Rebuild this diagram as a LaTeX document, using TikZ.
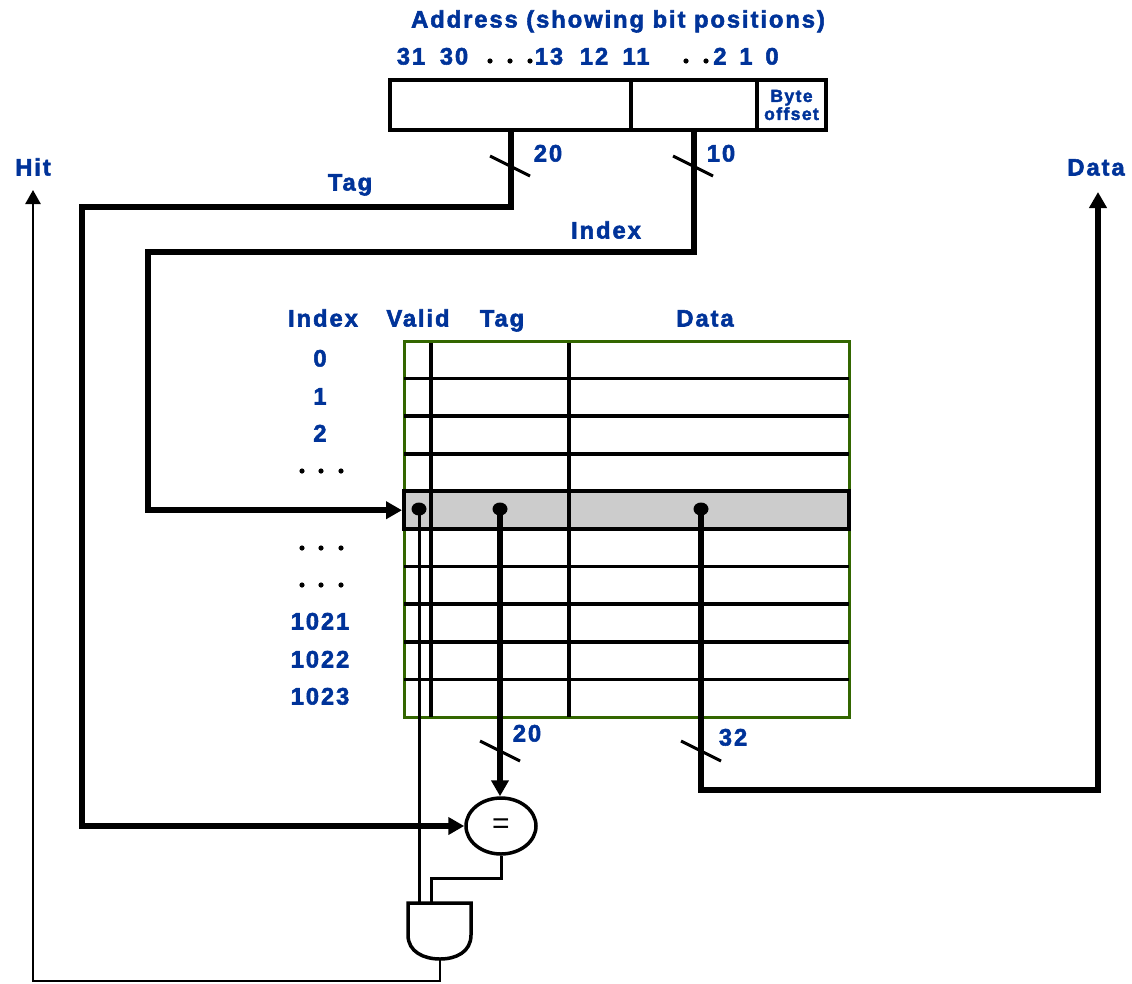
\documentclass[tikz,border=0pt]{standalone}
\usepackage{fontspec}
\setmainfont{Liberation Sans}
\newfontfamily\labfont[LetterSpace=8,BoldFeatures={FakeBold=2.2}]{Liberation Sans}
\usepackage{xcolor}
\usepackage{tikz}
\usetikzlibrary{calc,arrows.meta,positioning,shapes.geometric}
\definecolor{labc}{HTML}{003399}
\definecolor{gridc}{HTML}{336600}
\definecolor{selc}{HTML}{CCCCCC}
\tikzset{
  lab/.style={font=\labfont\fontsize{23.8}{26}\selectfont\bfseries,text=labc,inner sep=0pt,text height=17pt,text depth=0pt},
  small/.style={font=\labfont\fontsize{17.5}{18}\selectfont\bfseries,text=labc,align=center,inner sep=0pt},
  field/.style={draw,line width=3.5pt,minimum height=50pt,inner sep=0pt},
  bus/.style={line width=6pt},
  wire/.style={line width=3pt},
  busar/.style={bus,-{Triangle[length=16pt,width=17pt]}},
  wirear/.style={line width=2.5pt,-{Triangle[length=14pt,width=15pt]}},
  slash/.style={line width=3pt},
  grid/.style={line width=3.5pt},
  tap/.style={ellipse,fill,inner sep=0pt,minimum width=15pt,minimum height=13pt}
}
\begin{document}
\begin{tikzpicture}[x=1pt,y=-1pt]
\useasboundingbox (0,0) rectangle (1132,983);
\node[lab] (title) at (618,19) {Address (showing bit positions)};
\foreach \b/\x in {31/411,30/454,13/549,12/594,11/636,2/720,1/746,0/772}{\node[lab] (bit\b) at (\x,56) {\b};}
\foreach \x in {490,510,530,686,706}{\fill (\x,61) circle (2.6pt);}
\node[field,minimum width=241pt] (tagf) at (510.5,105) {};
\node[field,minimum width=126pt] (idxf) at (694,105) {};
\node[field,minimum width=69pt,small] (offf) at (791.5,105) {Byte\\offset};
\node[lab] (taglab) at (350,182) {Tag};
\node[lab] (idxlab) at (606,230) {Index};
\node[lab] (tagw) at (548,153) {20};
\node[lab] (idxw) at (721,153) {10};
\node[lab] (hit) at (33,167) {Hit};
\node[lab] (data) at (1096,167) {Data};
\node[lab] (hidx) at (323,318) {Index};
\node[lab] (hval) at (418,318) {Valid};
\node[lab] (htag) at (502,318) {Tag};
\node[lab] (hdat) at (705,318) {Data};
\foreach \t/\y in {0/358,1/396,2/433,1021/621,1022/659,1023/696}{\node[lab] (row\t) at (320,\y) {\t};}
\foreach \y in {471,548,585}{\foreach \x in {302,321,341}{\fill (\x,\y) circle (2.6pt);}}
\node[draw=gridc,line width=3pt,minimum width=445pt,minimum height=376pt,inner sep=0pt] (tbl) at (626.5,529) {};
\foreach \k in {1,...,9}{\draw[grid] (404,{341+37.6*\k}) -- (849,{341+37.6*\k});}
\node[draw,fill=selc,line width=4pt,minimum width=445pt,minimum height=37.6pt,inner sep=0pt] (rowsel) at (626.5,510.2) {};
\draw[grid] (431,343) -- (431,717);
\draw[grid] (569,343) -- (569,717);
\node[tap] (vtap) at (419,509) {};
\node[tap] (ttap) at (500,509) {};
\node[tap] (dtap) at (701,509) {};
\node[lab] (tagw2) at (527,733) {20};
\node[lab] (datw) at (733,737) {32};
\node[draw,ellipse,line width=3.5pt,minimum width=70pt,minimum height=56pt,inner sep=0pt] (eq) at (501,826) {\fontsize{30}{30}\selectfont =};
\draw[line width=3.5pt] (408,903) -- (471,903) -- (471,935) .. controls (471,952) and (456,959) .. (440,959) .. controls (424,959) and (408,952) .. (408,935) -- cycle;
\coordinate (andl) at (419,903);
\coordinate (andr) at (431,903);
\coordinate (andout) at (440,959);
\coordinate (tagturn) at (82,207);
\coordinate (idxturn) at (148,252);
\coordinate (dturn) at (1098,790);
\coordinate (dataout) at (1098,192);
\coordinate (cmpturn) at (431,878);
\coordinate (hitturn) at (33,981);
\coordinate (hitout) at (33,190);
\draw[busar] (tagf.south) |- (tagturn) |- (eq.west);
\draw[busar] (idxf.south) |- (idxturn) |- (rowsel.west);
\draw[busar] (ttap.center) -- (ttap.center |- eq.north);
\draw[busar] (dtap.center) |- (dturn) -- (dataout);
\draw[wire] (vtap.center) -- (andl);
\draw[wire] (eq.south) |- (cmpturn) -- (andr);
\draw[wirear] (andout) |- (hitturn) -- (hitout);
\foreach \x/\y in {510/166,693/166,500/751,701/751}{\draw[slash] (\x,\y) ++(-20,-10) -- ++(40,20);}
\end{tikzpicture}
\end{document}
